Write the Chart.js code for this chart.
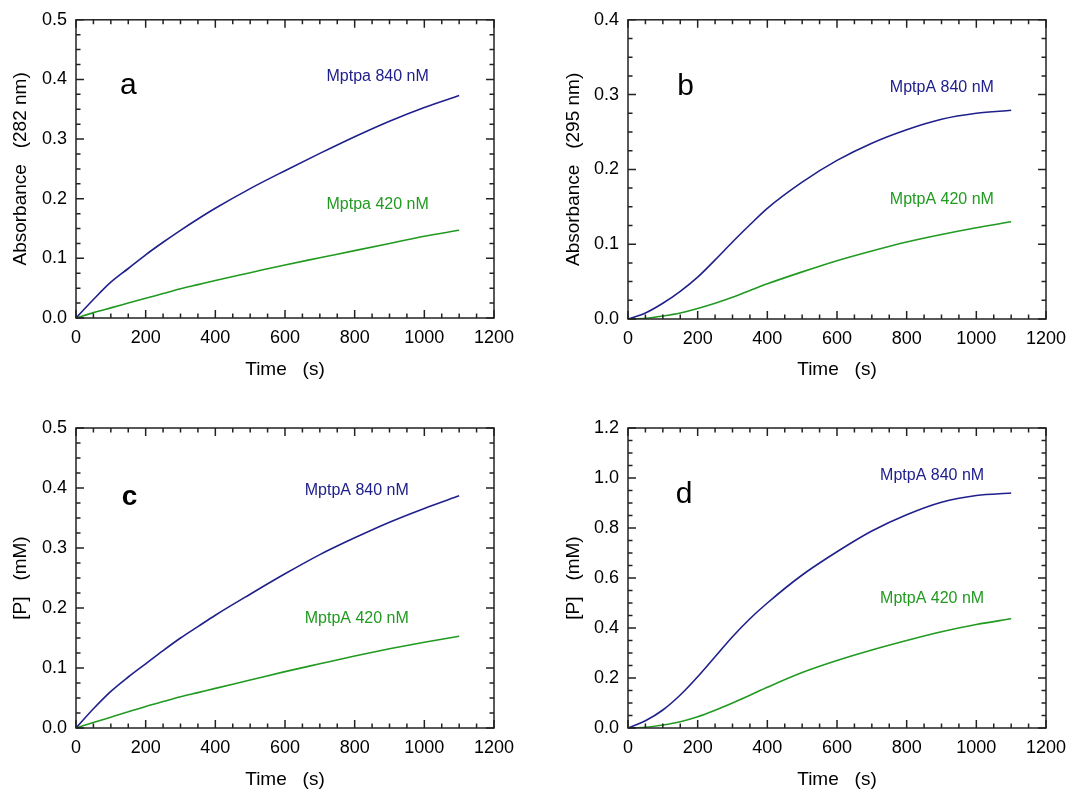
<!DOCTYPE html>
<html>
<head>
<meta charset="utf-8">
<title>MptpA kinetics</title>
<script src="https://cdn.jsdelivr.net/npm/chart.js@4.4.1/dist/chart.umd.min.js"></script>
<style>
    body { margin: 0; background: #fff; }
    #wrap { position: relative; width: 1069px; height: 792px; background: #fff; }
    canvas { position: absolute; }
</style>
</head>
<body>
<div id="wrap">
    <canvas id="chartA" width="534" height="396" style="left:0;top:0"></canvas>
    <canvas id="chartB" width="535" height="396" style="left:534px;top:0"></canvas>
    <canvas id="chartC" width="534" height="396" style="left:0;top:396px"></canvas>
    <canvas id="chartD" width="535" height="396" style="left:534px;top:396px"></canvas>
</div>
<script>
// time points (s), shared by every curve
const timeSec = [0, 50, 100, 150, 200, 250, 300, 350, 400, 500, 600, 700, 800, 900, 1000, 1100];

// a: absorbance at 282 nm
const absA840 = [0, 0.031, 0.060, 0.083, 0.106, 0.127, 0.147, 0.166, 0.184, 0.217, 0.247, 0.276, 0.304, 0.330, 0.353, 0.373];
const absA420 = [0, 0.009, 0.017, 0.025, 0.033, 0.041, 0.049, 0.056, 0.063, 0.076, 0.089, 0.101, 0.113, 0.125, 0.137, 0.147];

// b: absorbance at 295 nm
const absB840 = [0, 0.008, 0.021, 0.037, 0.056, 0.079, 0.103, 0.126, 0.148, 0.183, 0.212, 0.235, 0.253, 0.267, 0.275, 0.279];
const absB420 = [0, 0.001, 0.004, 0.008, 0.014, 0.021, 0.029, 0.038, 0.047, 0.063, 0.078, 0.091, 0.103, 0.113, 0.122, 0.130];

// c: product (mM), from a
const prodC840 = [0, 0.032, 0.061, 0.085, 0.107, 0.129, 0.150, 0.169, 0.188, 0.223, 0.257, 0.289, 0.317, 0.343, 0.366, 0.387];
const prodC420 = [0, 0.009, 0.018, 0.027, 0.036, 0.044, 0.052, 0.059, 0.066, 0.080, 0.094, 0.107, 0.120, 0.132, 0.143, 0.153];

// d: product (mM), from b
const prodD840 = [0, 0.029, 0.072, 0.132, 0.205, 0.285, 0.365, 0.437, 0.500, 0.612, 0.705, 0.788, 0.853, 0.903, 0.930, 0.940];
const prodD420 = [0, 0.003, 0.012, 0.025, 0.045, 0.071, 0.100, 0.131, 0.163, 0.222, 0.270, 0.312, 0.350, 0.385, 0.414, 0.437];

const xTicks = [0, 200, 400, 600, 800, 1000, 1200];
const yTicksHalf = [0, 0.1, 0.2, 0.3, 0.4, 0.5];
const yTicksB = [0, 0.1, 0.2, 0.3, 0.4];
const yTicksD = [0, 0.2, 0.4, 0.6, 0.8, 1.0, 1.2];

const BLUE = "#20208c";
const GREEN = "#219a21";
const INK = "#222";
const FONT = "'Liberation Sans', Arial, sans-serif";

// frame, inward ticks on all four sides, panel letter and curve labels
const framePlugin = {
    id: "frame",
    afterDatasetsDraw(chart, args, opts) {
        const { ctx, chartArea: a, scales } = chart;
        const xs = scales.x, ys = scales.y;
        ctx.save();
        ctx.strokeStyle = INK;
        ctx.lineWidth = 1.5;
        ctx.strokeRect(a.left, a.top, a.right - a.left, a.bottom - a.top);

        ctx.beginPath();
        for (let i = 0; ; i++) {
            const v = xs.min + i * opts.xMinor;
            if (v > xs.max + 1e-9) break;
            const px = xs.getPixelForValue(v);
            const len = i % opts.xPerMajor === 0 ? 8 : 4.5;
            ctx.moveTo(px, a.bottom); ctx.lineTo(px, a.bottom - len);
            ctx.moveTo(px, a.top); ctx.lineTo(px, a.top + len);
        }
        for (let i = 0; ; i++) {
            const v = ys.min + i * opts.yMinor;
            if (v > ys.max + 1e-9) break;
            const py = ys.getPixelForValue(v);
            const len = i % opts.yPerMajor === 0 ? 8 : 4.5;
            ctx.moveTo(a.left, py); ctx.lineTo(a.left + len, py);
            ctx.moveTo(a.right, py); ctx.lineTo(a.right - len, py);
        }
        ctx.stroke();

        ctx.textAlign = "center";
        ctx.textBaseline = "middle";
        ctx.fillStyle = "#000";
        ctx.font = opts.letterFont + " " + FONT;
        ctx.fillText(opts.letter[0], xs.getPixelForValue(opts.letter[1]), ys.getPixelForValue(opts.letter[2]));

        ctx.font = "16px " + FONT;
        opts.notes.forEach(n => {
            ctx.fillStyle = n[3];
            ctx.fillText(n[0], xs.getPixelForValue(n[1]), ys.getPixelForValue(n[2]));
        });
        ctx.restore();
    }
};

function toPoints(vals) {
    return timeSec.map((t, i) => ({ x: t, y: vals[i] }));
}

function makePanel(id, p) {
    const ctx = document.getElementById(id).getContext("2d");
    return new Chart(ctx, {
        type: "line",
        data: {
            datasets: [
                { data: toPoints(p.hi), borderColor: BLUE, borderWidth: 1.6, pointRadius: 0, cubicInterpolationMode: "monotone" },
                { data: toPoints(p.lo), borderColor: GREEN, borderWidth: 1.6, pointRadius: 0, cubicInterpolationMode: "monotone" }
            ]
        },
        options: {
            responsive: false,
            animation: false,
            devicePixelRatio: 1,
            layout: { padding: { top: p.top, right: p.right, left: 0, bottom: 0 } },
            plugins: {
                legend: { display: false },
                tooltip: { enabled: false },
                frame: {
                    xMinor: 50, xPerMajor: 4,
                    yMinor: p.yMinor, yPerMajor: 4,
                    letter: p.letter, letterFont: p.letterFont,
                    notes: p.notes
                }
            },
            scales: {
                x: {
                    type: "linear",
                    min: 0, max: 1200,
                    afterBuildTicks: s => { s.ticks = xTicks.map(v => ({ value: v })); },
                    afterFit: s => {
                        s.height = p.xHeight;
                        // let the last label hang past the frame, like the original
                        s.paddingLeft = 0;
                        s.paddingRight = 0;
                    },
                    grid: { display: false, drawTicks: false },
                    border: { display: false },
                    ticks: { color: "#000", padding: 9, maxRotation: 0, font: { family: FONT, size: 18 }, callback: v => String(v) },
                    title: { display: true, text: "Time   (s)", color: "#000", padding: { top: 0, bottom: p.xTitlePad }, font: { family: FONT, size: 19 } }
                },
                y: {
                    min: 0, max: p.yMax,
                    afterBuildTicks: s => { s.ticks = p.yTicks.map(v => ({ value: v })); },
                    afterFit: s => { s.width = p.yWidth; },
                    grid: { display: false, drawTicks: false },
                    border: { display: false },
                    ticks: { color: "#000", padding: 9, font: { family: FONT, size: 18 }, callback: v => v.toFixed(1) },
                    title: { display: true, text: p.yTitle, color: "#000", padding: { top: p.yTitlePad, bottom: 0 }, font: { family: FONT, size: 19 } }
                }
            }
        },
        plugins: [framePlugin]
    });
}

makePanel("chartA", {
    hi: absA840, lo: absA420, yMax: 0.5, yTicks: yTicksHalf, yMinor: 0.025,
    yTitle: "Absorbance   (282 nm)",
    top: 19, right: 40, xHeight: 78, yWidth: 76, xTitlePad: 15, yTitlePad: 9,
    letter: ["a", 150, 0.39], letterFont: "30px",
    notes: [["Mptpa 840 nM", 866, 0.404, BLUE], ["Mptpa 420 nM", 866, 0.19, GREEN]]
});

makePanel("chartB", {
    hi: absB840, lo: absB420, yMax: 0.4, yTicks: yTicksB, yMinor: 0.025,
    yTitle: "Absorbance   (295 nm)",
    top: 19, right: 23, xHeight: 77, yWidth: 94, xTitlePad: 15, yTitlePad: 28,
    letter: ["b", 165, 0.31], letterFont: "30px",
    notes: [["MptpA 840 nM", 901, 0.309, BLUE], ["MptpA 420 nM", 901, 0.159, GREEN]]
});

makePanel("chartC", {
    hi: prodC840, lo: prodC420, yMax: 0.5, yTicks: yTicksHalf, yMinor: 0.025,
    yTitle: "[P]   (mM)",
    top: 32, right: 40, xHeight: 64, yWidth: 76, xTitlePad: 1, yTitlePad: 9,
    letter: ["c", 154, 0.385], letterFont: "bold 28px",
    notes: [["MptpA 840 nM", 806, 0.396, BLUE], ["MptpA 420 nM", 806, 0.182, GREEN]]
});

makePanel("chartD", {
    hi: prodD840, lo: prodD420, yMax: 1.2, yTicks: yTicksD, yMinor: 0.05,
    yTitle: "[P]   (mM)",
    top: 32, right: 23, xHeight: 64, yWidth: 94, xTitlePad: 1, yTitlePad: 28,
    letter: ["d", 161, 0.935], letterFont: "30px",
    notes: [["MptpA 840 nM", 873, 1.009, BLUE], ["MptpA 420 nM", 873, 0.516, GREEN]]
});
</script>
</body>
</html>
